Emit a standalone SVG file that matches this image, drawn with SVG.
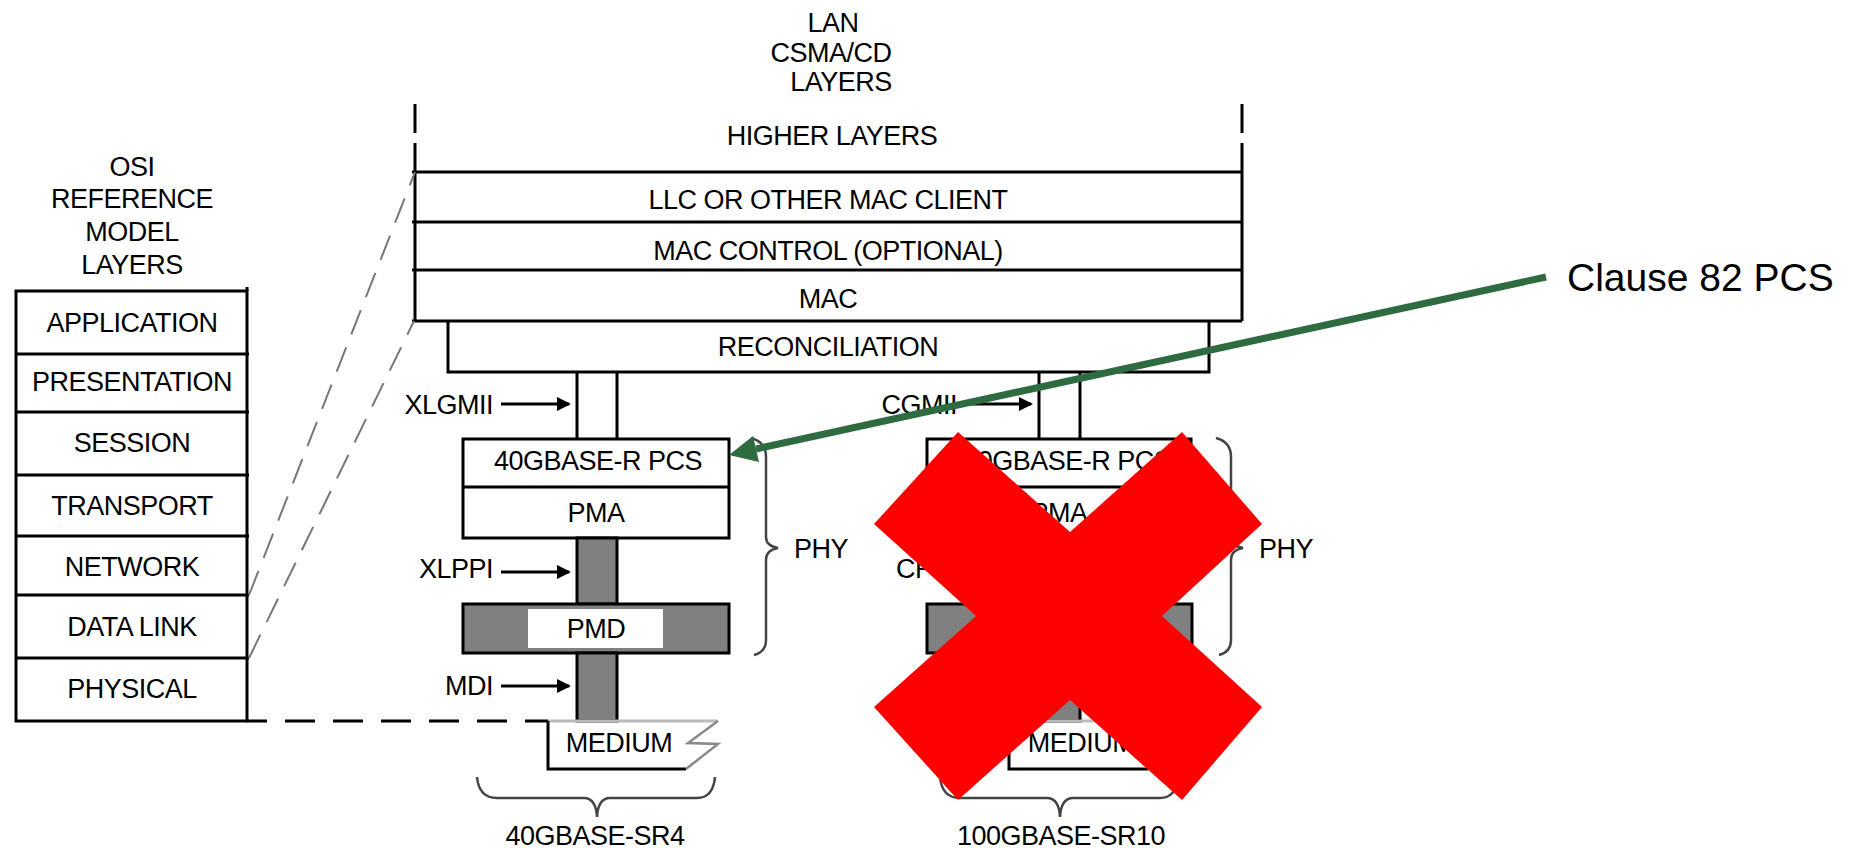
<svg xmlns="http://www.w3.org/2000/svg" width="1850" height="848" viewBox="0 0 1850 848">
<style>
text{font-family:"Liberation Sans",Arial,sans-serif;font-size:27px;fill:#000;letter-spacing:-0.5px}
.c{text-anchor:middle}
.r{text-anchor:end}
.ln{stroke:#000;stroke-width:3;fill:none}
.box{stroke:#000;stroke-width:3;fill:#fff}
.gray{fill:#808080;stroke:#000;stroke-width:3}
.gdash{stroke:#777;stroke-width:2;stroke-dasharray:26 14;fill:none}
.brace{stroke:#444;stroke-width:2.5;fill:none}
.bolt{stroke:#888;stroke-width:2.5;fill:none}
.arr{stroke:#000;stroke-width:3;fill:none;marker-end:url(#ah)}
</style>
<defs>
<marker id="ah" markerWidth="14" markerHeight="14" refX="12" refY="7" orient="auto" markerUnits="userSpaceOnUse">
<path d="M0,0 L14,7 L0,14 z" fill="#000"/>
</marker>
</defs>
<rect width="1850" height="848" fill="#fff"/>

<g id="osi">
<text class="c" x="132" y="176">OSI</text>
<text class="c" x="132" y="208">REFERENCE</text>
<text class="c" x="132" y="241">MODEL</text>
<text class="c" x="132" y="274">LAYERS</text>
<rect class="box" x="16" y="291" width="231" height="430"/>
<path class="ln" d="M16,354H249M16,412H249M16,475H249M16,536H249M16,595H249M16,658H249M247,287V291"/>
<text class="c" x="132" y="332">APPLICATION</text>
<text class="c" x="132" y="391">PRESENTATION</text>
<text class="c" x="132" y="452">SESSION</text>
<text class="c" x="132" y="515">TRANSPORT</text>
<text class="c" x="132" y="576">NETWORK</text>
<text class="c" x="132" y="636">DATA LINK</text>
<text class="c" x="132" y="698">PHYSICAL</text>
</g>

<g id="lan">
<text class="c" x="833" y="32">LAN</text>
<text class="c" x="831" y="62">CSMA/CD</text>
<text class="c" x="841" y="91">LAYERS</text>
<path class="ln" d="M415,104V133M415,143V321M1242,104V133M1242,143V321"/>
<path class="ln" d="M412,172H1242M412,222H1242M412,270H1242M412,321H1242"/>
<text class="c" x="832" y="145">HIGHER LAYERS</text>
<text class="c" x="828" y="209">LLC OR OTHER MAC CLIENT</text>
<text class="c" x="828" y="260">MAC CONTROL (OPTIONAL)</text>
<text class="c" x="828" y="308">MAC</text>
<path class="ln" d="M448,321V372H1209V321"/>
<text class="c" x="828" y="356">RECONCILIATION</text>
</g>

<g id="phy40">
<path class="ln" d="M577,372V439M617,372V439"/>
<rect class="box" x="463" y="439" width="266" height="99"/>
<path class="ln" d="M463,487H729"/>
<text class="c" x="598" y="470">40GBASE-R PCS</text>
<text class="c" x="596" y="522">PMA</text>
<rect class="gray" x="577" y="538" width="40" height="66"/>
<rect class="gray" x="463" y="604" width="266" height="49"/>
<rect x="528" y="609" width="135" height="39" fill="#fff"/>
<text class="c" x="596" y="638">PMD</text>
<rect class="gray" x="577" y="653" width="40" height="68"/>
<path class="brace" d="M751,438 Q766,442 766,457 L766,537 Q766,546 778,548 Q766,550 766,560 L766,640 Q766,652 754,655"/>
<text x="794" y="558">PHY</text>
</g>

<g id="medium40">
<path d="M548,721H718" stroke="#bbb" stroke-width="3"/>
<path class="ln" d="M548,721V769H686"/>
<path class="bolt" d="M718,721 L688,743 L718,744 L686,769"/>
<text class="c" x="619" y="752">MEDIUM</text>
<path class="brace" d="M477,777 Q479,798 497,798 L585,798 Q596,799 597,817 Q598,799 609,798 L697,798 Q713,798 715,777"/>
<text class="c" x="595" y="845">40GBASE-SR4</text>
</g>

<g id="phy100">
<path class="ln" d="M1039,372V439M1080,372V439"/>
<rect class="box" x="927" y="439" width="264" height="99"/>
<path class="ln" d="M927,487H1191"/>
<text class="c" x="1060" y="470">100GBASE-R PCS</text>
<text class="c" x="1059" y="522">PMA</text>
<rect class="gray" x="1039" y="538" width="41" height="66"/>
<rect class="gray" x="927" y="604" width="265" height="49"/>
<rect x="991" y="609" width="135" height="39" fill="#fff"/>
<text class="c" x="1059" y="638">PMD</text>
<rect class="gray" x="1039" y="653" width="41" height="68"/>
<path class="brace" d="M1216,438 Q1231,442 1231,457 L1231,537 Q1231,546 1243,548 Q1231,550 1231,560 L1231,640 Q1231,652 1219,655"/>
<text x="1259" y="558">PHY</text>
</g>

<g id="medium100">
<path d="M1009,721H1180" stroke="#bbb" stroke-width="3"/>
<path class="ln" d="M1009,721V769H1148"/>
<path class="bolt" d="M1180,721 L1150,743 L1180,744 L1148,769"/>
<text class="c" x="1081" y="752">MEDIUM</text>
<path class="brace" d="M940,777 Q942,798 960,798 L1048,798 Q1059,799 1060,817 Q1061,799 1072,798 L1160,798 Q1176,798 1178,777"/>
<text class="c" x="1061" y="845">100GBASE-SR10</text>
</g>

<g id="connectors">
<path class="gdash" d="M249,595 L415,172"/>
<path class="gdash" d="M249,658 L414,321"/>
<path d="M247,721 H548" stroke="#000" stroke-width="3" stroke-dasharray="30 18" stroke-dashoffset="10"/>
<text class="r" x="493" y="414">XLGMII</text>
<path class="arr" d="M501,404 H569"/>
<text class="r" x="493" y="578">XLPPI</text>
<path class="arr" d="M501,572 H569"/>
<text class="r" x="493" y="695">MDI</text>
<path class="arr" d="M501,686 H569"/>
<text class="r" x="957" y="414">CGMII</text>
<path class="arr" d="M963,404 H1031"/>
<text class="r" x="957" y="578">CPPI</text>
<path class="arr" d="M963,572 H1031"/>
</g>

<g id="cross">
<polygon fill="#ff0000" points="958,432 1070,532 1182,432 1262,524 1162,616 1262,707 1182,800 1070,700 958,800 874,707 976,616 874,524"/>
</g>

<g id="callout">
<path d="M1546,277 L756,449" stroke="#2f6b40" stroke-width="7" fill="none"/>
<polygon fill="#2f6b40" points="729,455 759,462 753,436"/>
<text x="1567" y="291" style="font-size:39px;letter-spacing:0">Clause 82 PCS</text>
</g>
</svg>
